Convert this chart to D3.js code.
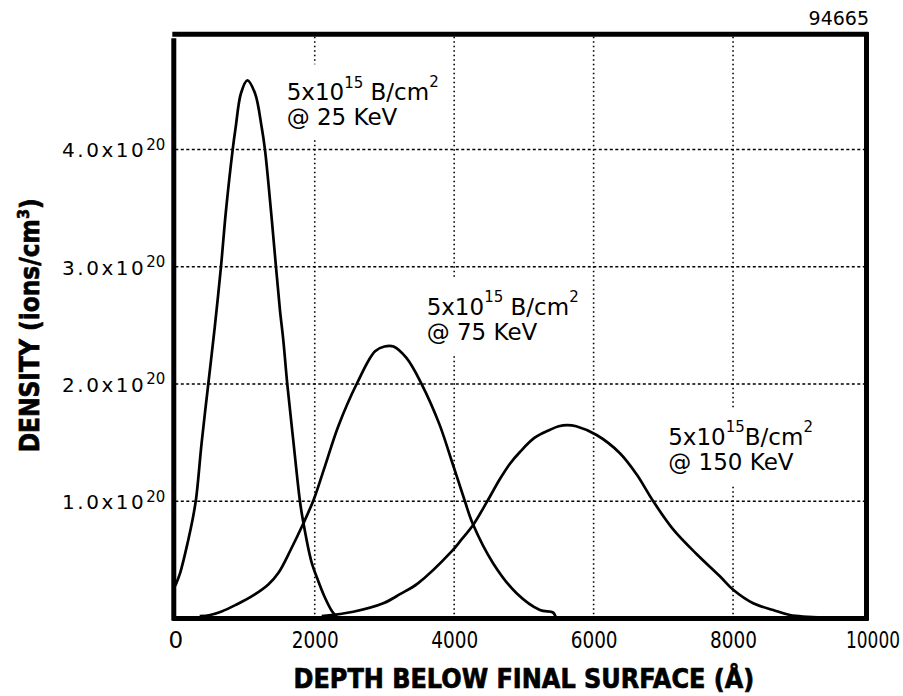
<!DOCTYPE html>
<html>
<head>
<meta charset="utf-8">
<script src="https://cdn.jsdelivr.net/npm/d3@7"></script>
<style>
  body { margin: 0; background: #fff; }
  svg { display: block; }
</style>
</head>
<body>
<div id="chart"></div>
<script>
// depth in angstrom, density in units of 1e20 ions/cm3
const depth25 = [0, 70, 186, 250, 300, 378, 473, 565, 655, 727, 823, 866, 942, 1033, 1143, 1239, 1286, 1372, 1444, 1501, 1549, 1606, 1692, 1788, 1836, 1950, 2050, 2130, 2250, 2330, 2400];
const dens25 = [0.28, 0.39, 0.67, 0.85, 1.03, 1.5, 2.0, 2.48, 3.0, 3.48, 4.0, 4.19, 4.48, 4.59, 4.48, 4.19, 4.0, 3.48, 3.0, 2.63, 2.375, 2.0, 1.52, 1.0, 0.82, 0.49, 0.32, 0.2, 0.06, 0.01, 0];

const depth75 = [350, 500, 665, 880, 1100, 1334, 1480, 1650, 1836, 1989, 2147, 2338, 2601, 2865, 3000, 3130, 3318, 3533, 3786, 3978, 4154, 4265, 4560, 4895, 5230, 5420, 5460];
const dens75 = [0.02, 0.03, 0.06, 0.12, 0.19, 0.29, 0.39, 0.58, 0.81, 1.02, 1.3, 1.64, 2.0, 2.28, 2.32, 2.32, 2.22, 2.0, 1.66, 1.32, 1.0, 0.81, 0.47, 0.215, 0.072, 0.05, 0];

const depth150 = [2100, 2553, 2983, 3230, 3480, 3960, 4100, 4274, 4465, 4656, 4800, 4943, 5150, 5375, 5500, 5620, 5750, 6043, 6377, 6616, 6855, 7141, 7476, 7811, 8002, 8289, 8576, 8815, 9300];
const dens150 = [0.02, 0.058, 0.13, 0.21, 0.30, 0.57, 0.67, 0.80, 0.99, 1.19, 1.32, 1.42, 1.54, 1.61, 1.64, 1.65, 1.64, 1.565, 1.41, 1.23, 1.0, 0.76, 0.55, 0.36, 0.245, 0.13, 0.072, 0.03, 0.01];

const xTicks = [0, 2000, 4000, 6000, 8000, 10000];
const yTicks = [1, 2, 3, 4];
const yTickLabels = ["1.0x10", "2.0x10", "3.0x10", "4.0x10"];

// annotation text and where it sits (data units)
const annoUnits = [" B/cm", " B/cm", "B/cm"];
const annoEnergy = ["@ 25 KeV", "@ 75 KeV", "@ 150 KeV"];
const annoDepth = [1597, 3605, 7070];
const annoDensity = [4.42, 2.59, 1.48];

const width = 903, height = 696;
const font = "DejaVu Sans";

const svg = d3.select("#chart").append("svg")
  .attr("width", width)
  .attr("height", height);

svg.append("rect").attr("width", width).attr("height", height).attr("fill", "#fff");

const x = d3.scaleLinear().domain([0, 10000]).range([175.3, 872.5]);
const y = d3.scaleLinear().domain([0, 5]).range([618.5, 32.3]);
const right = x(10000) - 6;

// grid
svg.append("g").selectAll("line")
  .data(xTicks.slice(1, -1))
  .enter().append("line")
  .attr("x1", d => x(d)).attr("x2", d => x(d))
  .attr("y1", y(5)).attr("y2", y(0))
  .attr("stroke", "#000").attr("stroke-width", 1.6)
  .attr("stroke-dasharray", "1.5,3");

svg.append("g").selectAll("line")
  .data(yTicks)
  .enter().append("line")
  .attr("x1", x(0)).attr("x2", right)
  .attr("y1", d => y(d)).attr("y2", d => y(d))
  .attr("stroke", "#000").attr("stroke-width", 1.5)
  .attr("stroke-dasharray", "3,2.5");

// curves
const line = d3.line()
  .x(d => x(d[0]))
  .y(d => y(d[1]))
  .curve(d3.curveCatmullRom.alpha(0.5));

const series = [
  d3.zip(depth25, dens25),
  d3.zip(depth75, dens75),
  d3.zip(depth150, dens150)
];

svg.append("g").selectAll("path")
  .data(series)
  .enter().append("path")
  .attr("d", line)
  .attr("fill", "none")
  .attr("stroke", "#000")
  .attr("stroke-width", 2.7)
  .attr("stroke-linejoin", "round");

// annotations on white boxes
annoEnergy.forEach((energy, i) => {
  const g = svg.append("g");
  const box = g.append("rect").attr("fill", "#fff");
  const ax = x(annoDepth[i]), ay = y(annoDensity[i]);
  const t1 = g.append("text")
    .attr("x", ax).attr("y", ay)
    .attr("font-family", font).attr("font-size", 23).attr("fill", "#000");
  t1.append("tspan").text("5x10");
  t1.append("tspan").attr("font-size", 15).attr("dy", -12.5).text("15");
  t1.append("tspan").attr("dy", 12.5).text(annoUnits[i]);
  t1.append("tspan").attr("font-size", 15).attr("dy", -13).text("2");
  g.append("text")
    .attr("x", ax).attr("y", ay + 25)
    .attr("font-family", font).attr("font-size", 23).attr("fill", "#000")
    .text(energy);
  const bb = g.node().getBBox();
  box.attr("x", bb.x - 7).attr("y", bb.y - 9)
    .attr("width", bb.width + 14).attr("height", bb.height + 18);
});

// frame
const frame = svg.append("g").attr("stroke", "#000").attr("stroke-width", 5);
frame.append("line").attr("x1", x(0) - 3).attr("x2", right + 2).attr("y1", y(5) + 2).attr("y2", y(5) + 2);
frame.append("line").attr("x1", right).attr("x2", right).attr("y1", y(5)).attr("y2", y(0) + 2);
frame.append("line").attr("x1", x(0) - 1.5).attr("x2", x(0) - 1.5).attr("y1", y(5) + 6).attr("y2", y(0) + 2);
frame.append("line").attr("x1", x(0) - 3).attr("x2", right + 2).attr("y1", y(0)).attr("y2", y(0));

// x axis
const xAxis = svg.append("g")
  .attr("transform", `translate(0,${y(0)})`)
  .call(d3.axisBottom(x).tickValues(xTicks).tickSize(0).tickPadding(13).tickFormat(d3.format("d")));
xAxis.select(".domain").remove();
xAxis.attr("font-family", font).attr("font-size", 23);
// squeeze the tick numbers a bit, the scan uses a narrow face
xAxis.selectAll(".tick text")
  .attr("fill", "#000")
  .each(function(d) {
    if (d === 0) return;
    const w = this.getComputedTextLength();
    const target = d >= 10000 ? 54 : 47;
    d3.select(this).attr("transform", `scale(${target / w},1)`);
  });

// y axis
const yAxis = svg.append("g")
  .attr("transform", `translate(${x(0)},0)`)
  .call(d3.axisLeft(y).tickValues(yTicks).tickSize(0).tickPadding(10).tickFormat(""));
yAxis.select(".domain").remove();
yAxis.attr("font-family", font).attr("font-size", 20);
yAxis.selectAll(".tick text")
  .attr("fill", "#000")
  .attr("dy", "0.37em")
  .each(function(d, i) {
    const t = d3.select(this);
    t.append("tspan").attr("letter-spacing", 2.5).text(yTickLabels[i]);
    t.append("tspan").attr("font-size", 15).attr("dy", -7.5).text("20");
  });

// titles
const xTitle = svg.append("g")
  .attr("transform", `translate(${(x(0) + x(10000)) / 2},688)`)
  .append("text")
  .attr("text-anchor", "middle")
  .attr("font-family", font).attr("font-weight", "bold").attr("font-size", 26)
  .attr("fill", "#000").attr("stroke", "#000").attr("stroke-width", 0.7)
  .text("DEPTH BELOW FINAL SURFACE (Å)");
xTitle.attr("transform", `scale(${461 / xTitle.node().getComputedTextLength()},1)`);

const yTitle = svg.append("g")
  .attr("transform", `translate(39,${(y(0) + y(5)) / 2}) rotate(-90)`)
  .append("text")
  .attr("text-anchor", "middle")
  .attr("font-family", font).attr("font-weight", "bold").attr("font-size", 26)
  .attr("fill", "#000").attr("stroke", "#000").attr("stroke-width", 0.7);
yTitle.append("tspan").text("DENSITY (ions/cm");
yTitle.append("tspan").attr("font-size", 16).attr("dy", -10).text("3");
yTitle.append("tspan").attr("dy", 10).text(")");
yTitle.attr("transform", `scale(${254 / yTitle.node().getComputedTextLength()},1)`);

svg.append("text")
  .attr("x", 869).attr("y", 25)
  .attr("text-anchor", "end")
  .attr("font-family", font).attr("font-size", 19)
  .attr("fill", "#000")
  .text("94665");
</script>
</body>
</html>
